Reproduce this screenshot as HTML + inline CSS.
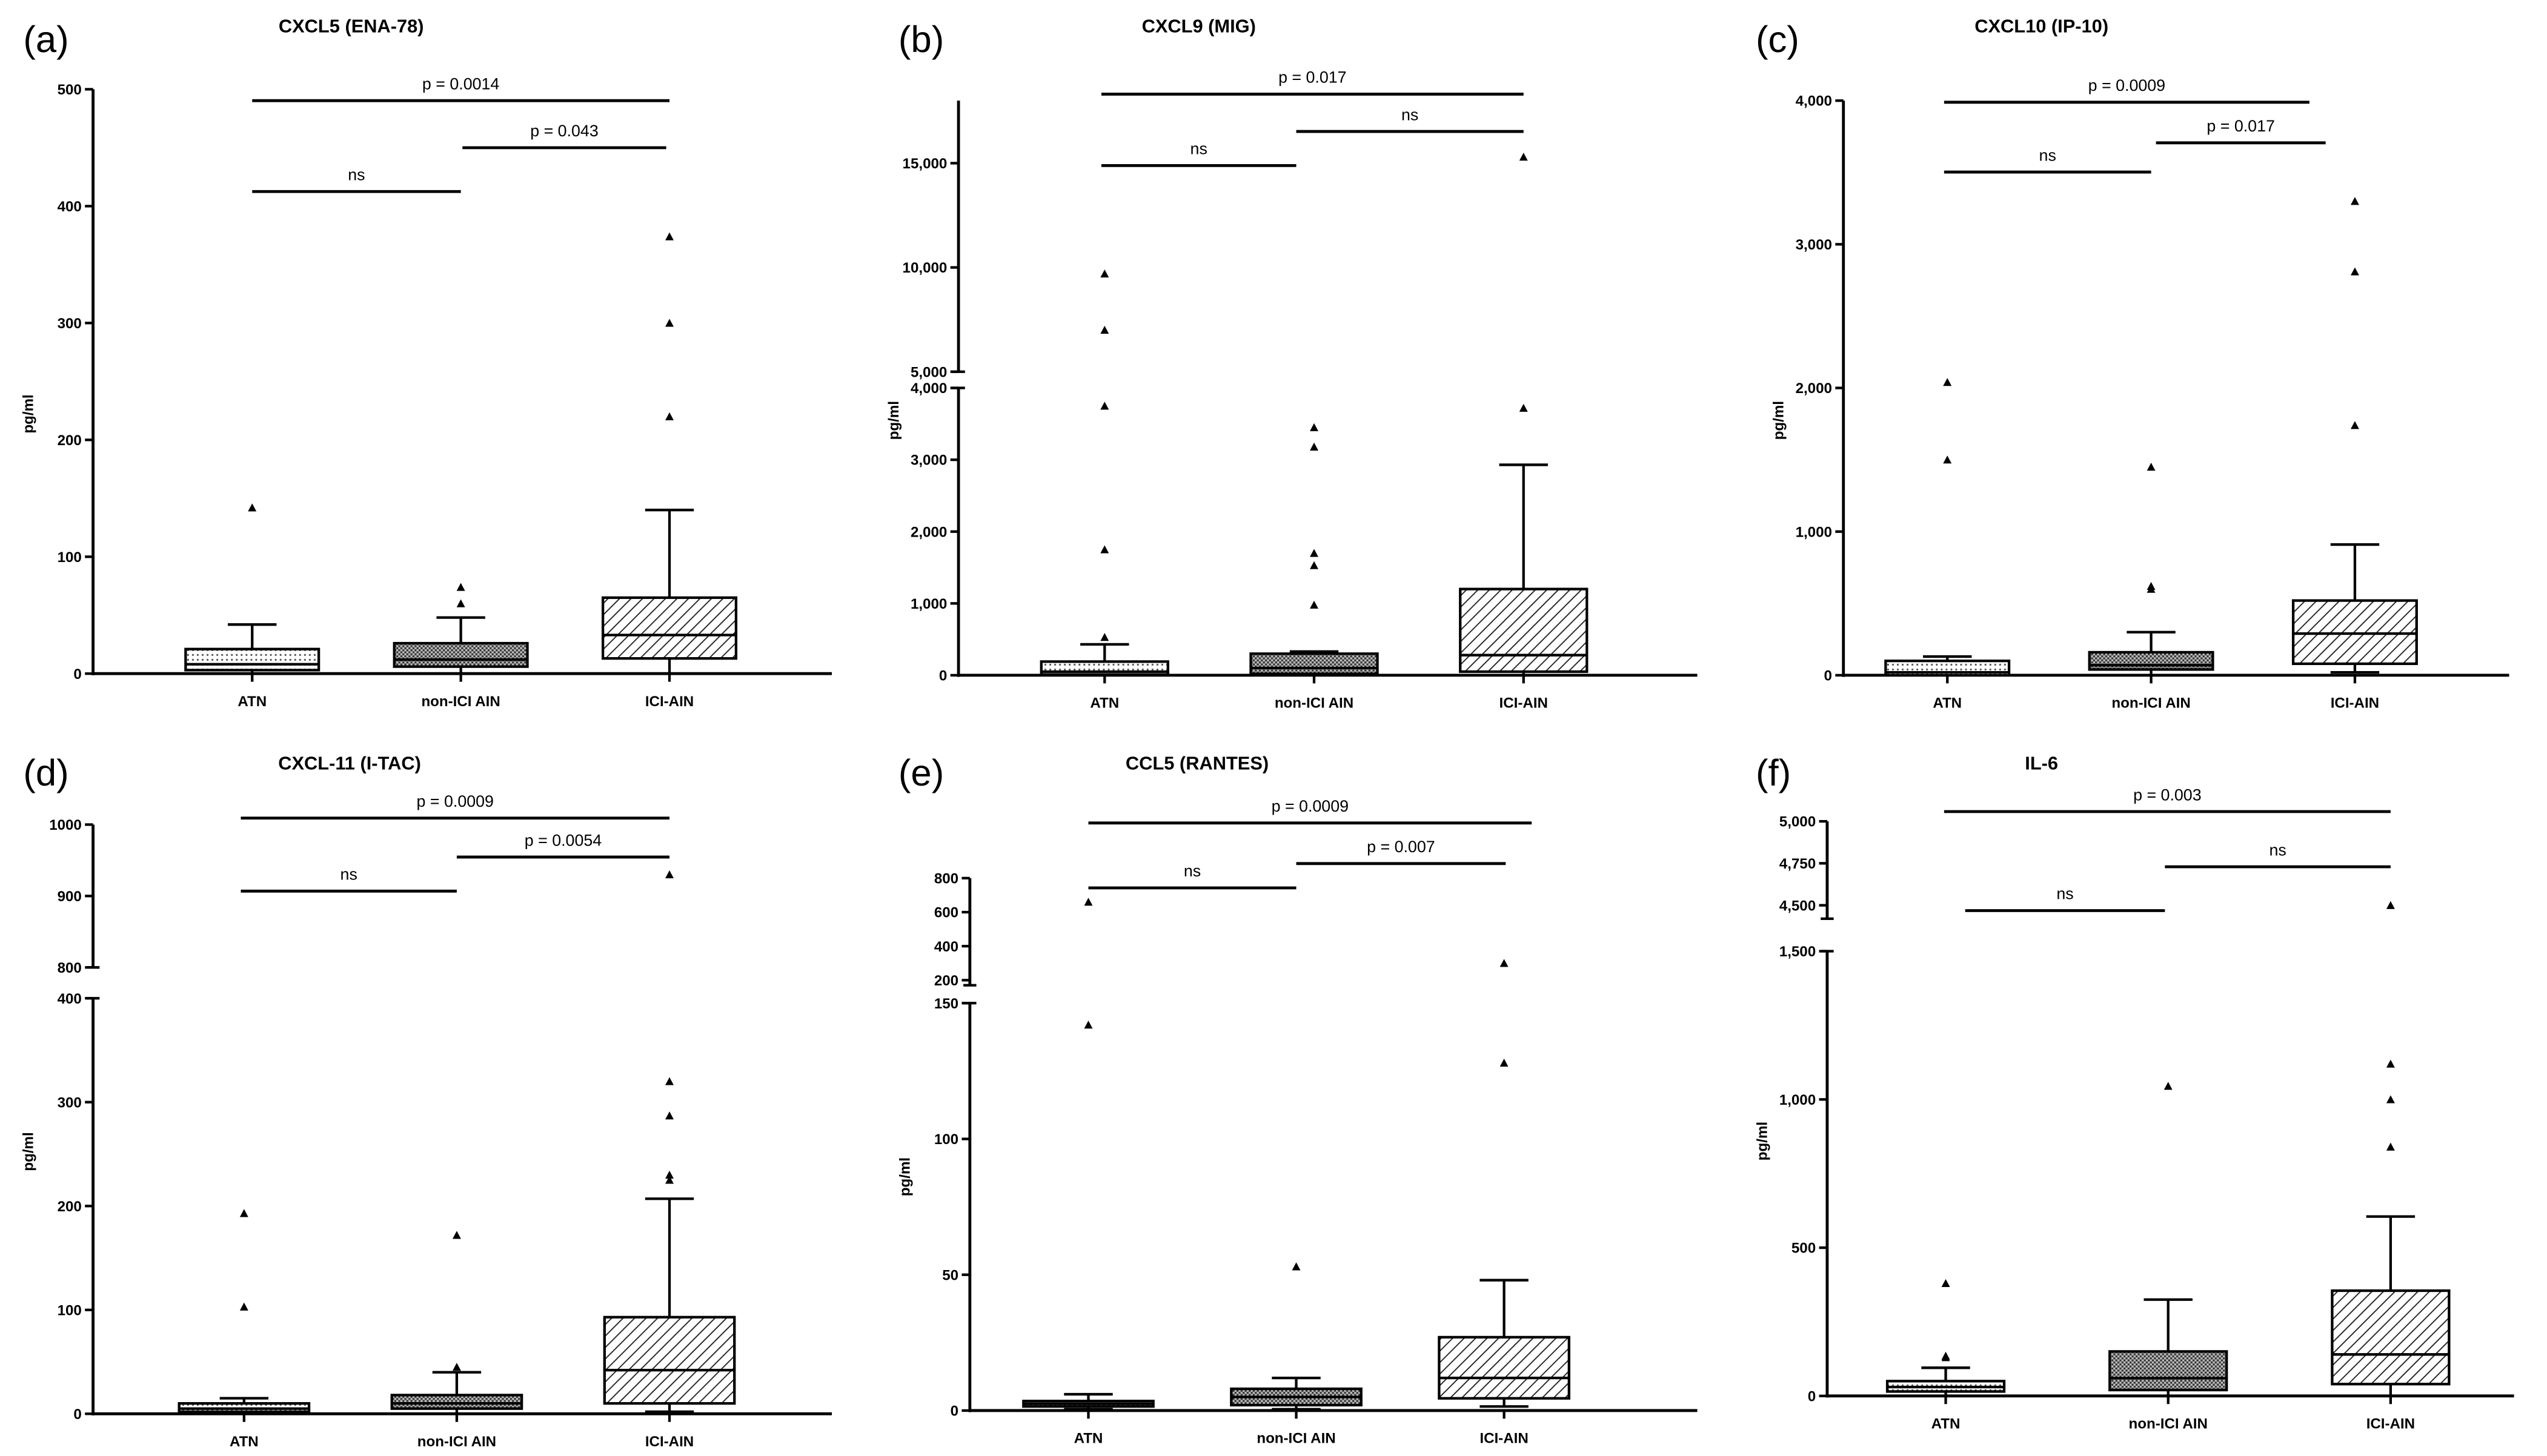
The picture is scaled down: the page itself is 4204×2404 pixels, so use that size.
<!DOCTYPE html>
<html><head><meta charset="utf-8">
<style>
html,body{margin:0;padding:0;background:#fff;}
svg{display:block;}
text{font-family:"Liberation Sans",Arial,sans-serif;}
</style></head>
<body>
<svg id="fig" width="4204" height="2404" viewBox="0 0 1568 897" xmlns="http://www.w3.org/2000/svg">
<defs>
<pattern id="pDots" patternUnits="userSpaceOnUse" width="3" height="3"><rect width="3" height="3" fill="#fff"/><circle cx="1.5" cy="1.5" r="0.6" fill="#555"/></pattern>
<pattern id="pCross" patternUnits="userSpaceOnUse" width="2.5" height="2.5"><rect width="2.5" height="2.5" fill="#bbb"/><rect width="1.2" height="1.2" fill="#333"/><rect x="1.25" y="1.25" width="1.2" height="1.2" fill="#333"/></pattern>
<pattern id="pDiag" patternUnits="userSpaceOnUse" width="5" height="5" patternTransform="rotate(45)"><rect width="5" height="5" fill="#fff"/><line x1="0" y1="0" x2="0" y2="5" stroke="#222" stroke-width="1.4"/></pattern>
</defs>
</svg>
<script>
// ---- data ----
const categories = ["ATN", "non-ICI AIN", "ICI-AIN"];
const panelLetters = ["(a)","(b)","(c)","(d)","(e)","(f)"];
const panelTitles = ["CXCL5 (ENA-78)","CXCL9 (MIG)","CXCL10 (IP-10)","CXCL-11 (I-TAC)","CCL5 (RANTES)","IL-6"];
const lowA=[0,0,0], q1A=[3,6,13], medA=[8,12,33], q3A=[21,26,65], highA=[42,48,140];
const outA=[[142],[60,74],[220,300,374]];
const lowB=[0,0,0], q1B=[10,20,50], medB=[50,100,280], q3B=[190,300,1200], highB=[430,330,2930];
const outB=[[530,1750,3750,7000,9700],[980,1530,1700,3180,3450],[3720,15300]];
const lowC=[0,0,20], q1C=[0,40,80], medC=[20,70,290], q3C=[100,160,520], highC=[130,300,910];
const outC=[[1500,2040],[600,620,1450],[1740,2810,3300]];
const lowD=[0,0,2], q1D=[2,5,10], medD=[5,10,42], q3D=[10,18,93], highD=[15,40,207];
const outD=[[103,193],[45,172],[225,230,287,320,930]];
const lowE=[0.5,0.5,1.5], q1E=[1.5,2,4.5], medE=[2.5,5,12], q3E=[3.5,8,27], highE=[6,12,48];
const outE=[[142,660],[53],[128,300]];
const lowF=[0,0,0], q1F=[15,20,40], medF=[30,60,140], q3F=[50,150,355], highF=[95,325,605];
const outF=[[130,135,380],[1045],[840,1000,1120,4500]];
const brA=[[0,2,"p = 0.0014"],[1,2,"p = 0.043"],[0,1,"ns"]];
const brB=[[0,2,"p = 0.017"],[1,2,"ns"],[0,1,"ns"]];
const brC=[[0,2,"p = 0.0009"],[1,2,"p = 0.017"],[0,1,"ns"]];
const brD=[[0,2,"p = 0.0009"],[1,2,"p = 0.0054"],[0,1,"ns"]];
const brE=[[0,2,"p = 0.0009"],[1,2,"p = 0.007"],[0,1,"ns"]];
const brF=[[0,2,"p = 0.003"],[1,2,"ns"],[0,1,"ns"]];
const ticksA=[[0,100,200,300,400,500]];
const ticksB=[[0,1000,2000,3000,4000],[5000,10000,15000]];
const ticksC=[[0,1000,2000,3000,4000]];
const ticksD=[[0,100,200,300,400],[800,900,1000]];
const ticksE=[[0,50,100,150],[200,400,600,800]];
const ticksF=[[0,500,1000,1500],[4500,4750,5000]];
const tickFmt=[false,true,true,false,false,true];

// ---- layout ----
const layout=[
 {ax:57, xEnd:512, cx0:155, step:128.5, bw:82, segs:[[0,500,415,55]], brY:[62,91,118], brOff:[[0,0],[1,-2],[0,0]]},
 {ax:590,xEnd:1045,cx0:680, step:129, bw:78, segs:[[0,4000,416,239],[5000,18000,229,62]], brY:[58,81,102], brOff:[[-2,0],[-11,0],[-2,-11]]},
 {ax:1135,xEnd:1545,cx0:1199,step:125.5,bw:76, segs:[[0,4000,416,62]], brY:[63,88,106], brOff:[[-2,-28],[3,-18],[-2,0]]},
 {ax:57, xEnd:512, cx0:150, step:131, bw:80, segs:[[0,400,871,615],[800,1000,596,508]], brY:[504,528,549], brOff:[[-2,0],[0,0],[-2,0]]},
 {ax:597,xEnd:1045,cx0:670, step:128, bw:80, segs:[[0,150,869,618],[170,800,607,541]], brY:[507,532,547], brOff:[[0,17],[0,1],[0,0]]},
 {ax:1125,xEnd:1548,cx0:1198,step:137, bw:72, segs:[[0,1500,860,586],[4420,5000,566,506]], brY:[500,534,561], brOff:[[-1,0],[-2,0],[12,-2]]}
];
const titlePos=[[216,16],[738,16],[1257,16],[215,470],[737,470],[1257,470]];
const letterPos=[[14,32],[553,32],[1081,32],[14,484],[553,484],[1081,484]];
const fills=["url(#pDots)","url(#pCross)","url(#pDiag)"];

const lows=[lowA,lowB,lowC,lowD,lowE,lowF], q1s=[q1A,q1B,q1C,q1D,q1E,q1F], meds=[medA,medB,medC,medD,medE,medF],
 q3s=[q3A,q3B,q3C,q3D,q3E,q3F], highs=[highA,highB,highC,highD,highE,highF], outs=[outA,outB,outC,outD,outE,outF],
 brs=[brA,brB,brC,brD,brE,brF], ticks=[ticksA,ticksB,ticksC,ticksD,ticksE,ticksF];

const NS="http://www.w3.org/2000/svg";
const svg=document.getElementById('fig');
function mk(tag,attrs,parent,txt){const e=document.createElementNS(NS,tag);for(const k in attrs)e.setAttribute(k,attrs[k]);if(txt!==undefined)e.textContent=txt;(parent||svg).appendChild(e);return e;}
function fmt(v,c){return c? v.toLocaleString('en-US'):String(v);}

for(let p=0;p<6;p++){
 const L=layout[p];
 const g=mk('g',{});
 
 
 function y(v){
   for(const s of L.segs){ if(v<=s[1]||s===L.segs[L.segs.length-1]){ const vv=Math.max(v,s[0]); return s[2]+(vv-s[0])/(s[1]-s[0])*(s[3]-s[2]); } }
 }
 function x(i){return L.cx0+i*L.step;}
 let t=mk('text',{x:letterPos[p][0],y:letterPos[p][1],'font-size':23},g,panelLetters[p]);
 
 t=mk('text',{x:titlePos[p][0],y:titlePos[p][1]+4,'font-size':11.5,'font-weight':'bold','text-anchor':'middle'},g,panelTitles[p]);
 
 L.segs.forEach((s,si)=>{
   let ln=mk('line',{x1:L.ax,x2:L.ax,y1:s[2]+(si===0?1:0),y2:s[3],stroke:'#000','stroke-width':1.8},g);
   
   if(L.segs.length>1){
     const yb= si===0? s[3]: s[2];
     let c=mk('line',{x1:L.ax-4,x2:L.ax+4,y1:yb,y2:yb,stroke:'#000','stroke-width':1.6},g);
     
   }
 });
 ticks[p].forEach(arr=>arr.forEach(v=>{
   const yy=y(v);
   let tk=mk('line',{x1:L.ax-5,x2:L.ax,y1:yy,y2:yy,stroke:'#000','stroke-width':1.6},g);
   
   let tl=mk('text',{x:L.ax-7,y:yy+3.2,'font-size':9,'font-weight':'bold','text-anchor':'end'},g,fmt(v,tickFmt[p]));
   
 }));
 const midY=(L.segs[0][2]+L.segs[L.segs.length-1][3])/2;
 t=mk('text',{x:0,y:0,'font-size':9,'font-weight':'bold','text-anchor':'middle',transform:`translate(${L.ax-37},${midY+20}) rotate(-90)`},g,'pg/ml');
 
 const y0=L.segs[0][2];
 let xa=mk('line',{x1:L.ax,x2:L.xEnd,y1:y0,y2:y0,stroke:'#000','stroke-width':1.8},g);
 
 categories.forEach((c,i)=>{
   let tk=mk('line',{x1:x(i),x2:x(i),y1:y0,y2:y0+5,stroke:'#000','stroke-width':1.6},g);
   
   let tl=mk('text',{x:x(i),y:y0+20,'font-size':9,'font-weight':'bold','text-anchor':'middle'},g,c);
   
 });
 for(let i=0;i<3;i++){
   const cx=x(i), hw=L.bw/2, cap=15;
   const bg=mk('g',{},g);
   
   
   mk('line',{x1:cx,x2:cx,y1:y(q3s[p][i]),y2:y(highs[p][i]),stroke:'#000','stroke-width':1.6},bg);
   mk('line',{x1:cx-cap,x2:cx+cap,y1:y(highs[p][i]),y2:y(highs[p][i]),stroke:'#000','stroke-width':1.6},bg);
   mk('line',{x1:cx,x2:cx,y1:y(q1s[p][i]),y2:y(lows[p][i]),stroke:'#000','stroke-width':1.6},bg);
   mk('line',{x1:cx-cap,x2:cx+cap,y1:y(lows[p][i]),y2:y(lows[p][i]),stroke:'#000','stroke-width':1.6},bg);
   const yt=y(q3s[p][i]), yb=y(q1s[p][i]);
   mk('rect',{x:cx-hw,y:yt,width:L.bw,height:Math.max(yb-yt,1.5),fill:fills[i],stroke:'#000','stroke-width':1.6},bg);
   mk('line',{x1:cx-hw,x2:cx+hw,y1:y(meds[p][i]),y2:y(meds[p][i]),stroke:'#000','stroke-width':1.6},bg);
   outs[p][i].forEach(v=>{
     const yy=y(v);
     let tr=mk('polygon',{points:`${cx-2.6},${yy+2.3} ${cx+2.6},${yy+2.3} ${cx},${yy-2.6}`,fill:'#000'},bg);
     
   });
 }
 brs[p].forEach((b,k)=>{
   const x1=x(b[0])+L.brOff[k][0], x2=x(b[1])+L.brOff[k][1], yy=L.brY[k];
   let ln=mk('line',{x1:x1,x2:x2,y1:yy,y2:yy,stroke:'#000','stroke-width':1.8},g);
   
   let tl=mk('text',{x:(x1+x2)/2,y:yy-7,'font-size':10,'text-anchor':'middle'},g,b[2]);
   
 });
}
</script>
</body></html>
